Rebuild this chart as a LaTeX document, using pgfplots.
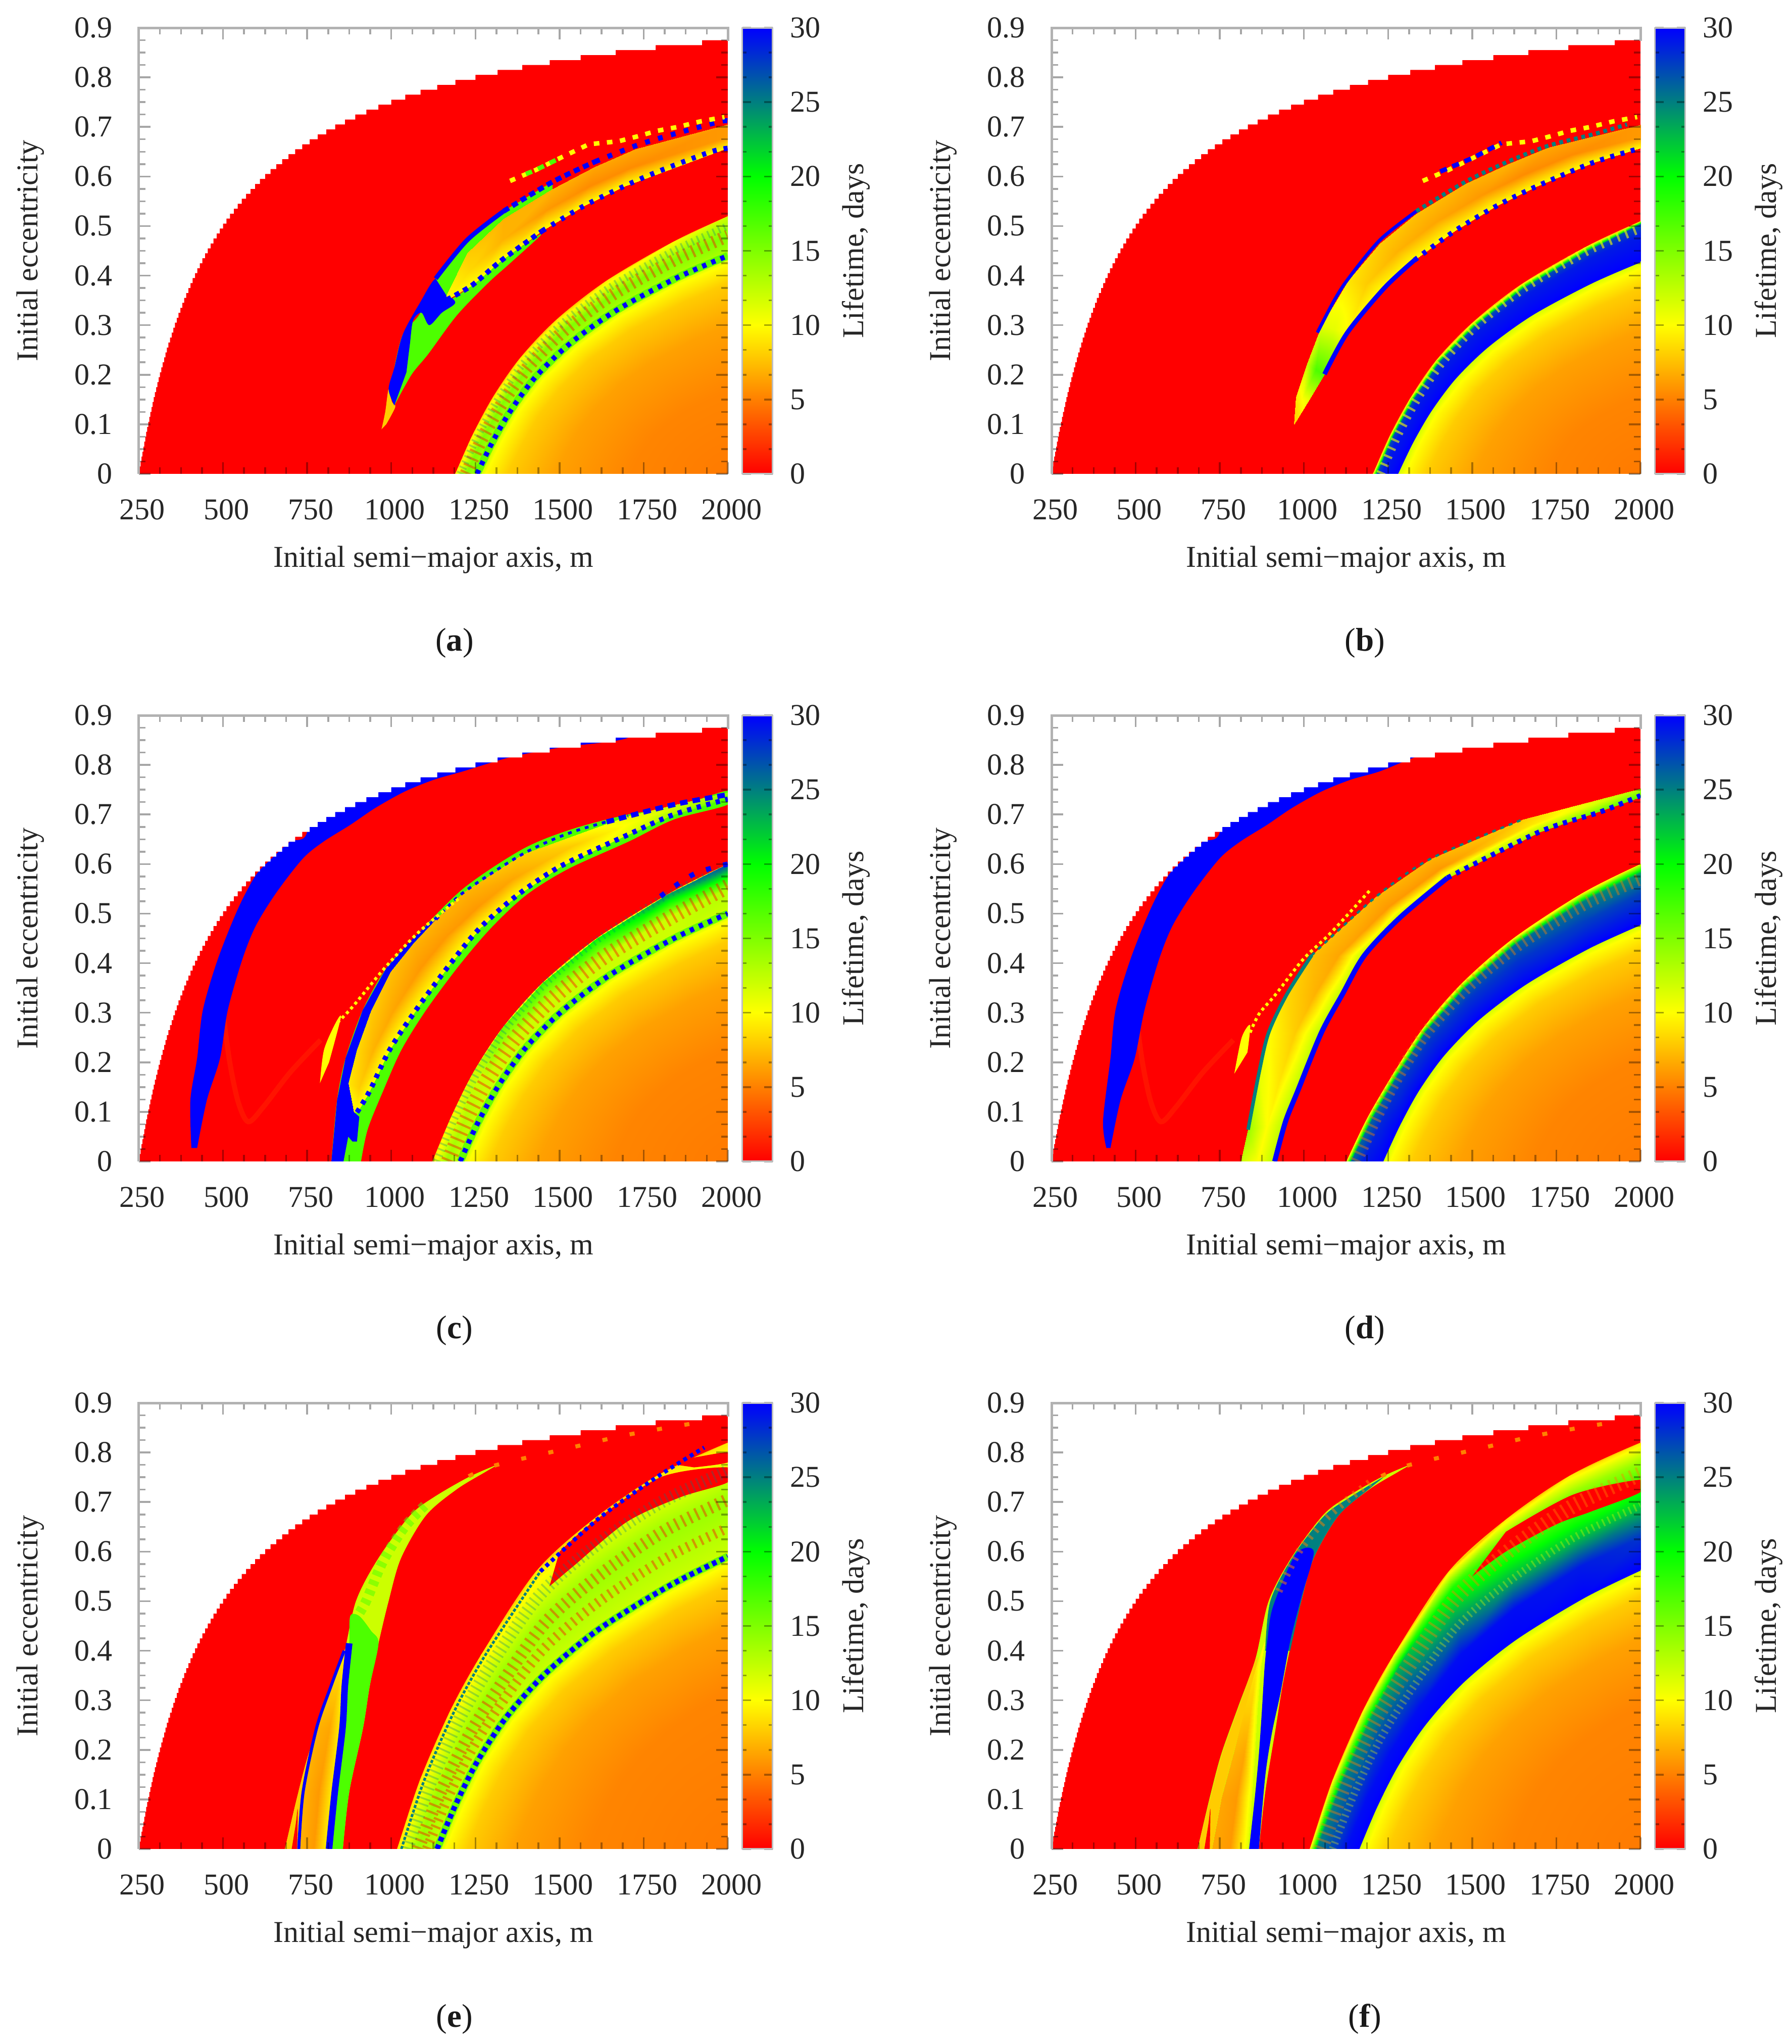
\documentclass[border=0pt]{standalone}
\usepackage{fontspec}
\setmainfont{Liberation Serif}
\usepackage{pgfplots}
\pgfplotsset{compat=1.18}
\definecolor{lR}{RGB}{255,0,0}
\definecolor{lO}{RGB}{255,128,0}
\definecolor{lYo}{RGB}{255,204,0}
\definecolor{lY}{RGB}{255,255,0}
\definecolor{lYG}{RGB}{204,255,0}
\definecolor{lGY}{RGB}{128,255,0}
\definecolor{lG}{RGB}{77,255,0}
\definecolor{lT}{RGB}{0,128,128}
\definecolor{lB}{RGB}{0,0,255}
\pgfplotstableread{
a e
250.0 0.005
252.5 0.015
255.1 0.025
257.7 0.035
260.4 0.045
263.2 0.055
266.0 0.065
268.8 0.075
271.7 0.085
274.7 0.095
277.8 0.105
280.9 0.115
284.1 0.125
287.4 0.135
290.7 0.145
294.1 0.155
297.6 0.165
301.2 0.175
304.9 0.185
308.6 0.195
312.5 0.205
316.5 0.215
320.5 0.225
324.7 0.235
328.9 0.245
333.3 0.255
337.8 0.265
342.5 0.275
347.2 0.285
352.1 0.295
357.1 0.305
362.3 0.315
367.6 0.325
373.1 0.335
378.8 0.345
384.6 0.355
390.6 0.365
396.8 0.375
403.2 0.385
409.8 0.395
416.7 0.405
423.7 0.415
431.0 0.425
438.6 0.435
446.4 0.445
454.5 0.455
463.0 0.465
471.7 0.475
480.8 0.485
490.2 0.495
500.0 0.505
510.2 0.515
520.8 0.525
531.9 0.535
543.5 0.545
555.6 0.555
568.2 0.565
581.4 0.575
595.2 0.585
609.8 0.595
625.0 0.605
641.0 0.615
657.9 0.625
675.7 0.635
694.4 0.645
714.3 0.655
735.3 0.665
757.6 0.675
781.3 0.685
806.5 0.695
833.3 0.705
862.1 0.715
892.9 0.725
925.9 0.735
961.5 0.745
1000.0 0.755
1041.7 0.765
1087.0 0.775
1136.4 0.785
1190.5 0.795
1250.0 0.805
1315.8 0.815
1388.9 0.825
1470.6 0.835
1562.5 0.845
1666.7 0.855
1785.7 0.865
1923.1 0.875
2000.0 0.90
250.0 0.90
}\stairs
\newcommand{\reg}[2]{\addplot[fill=#1,draw=none,forget plot] coordinates {#2};}
\newcommand{\sreg}[2]{\addplot[smooth,fill=#1,draw=none,forget plot] coordinates {#2};}
\newcommand{\cv}[2]{\addplot[smooth,forget plot,#1] coordinates {#2};}
\newcommand{\pl}[2]{\addplot[forget plot,#1] coordinates {#2};}
\newcommand{\strip}[2]{\addplot[surf,shader=interp,mesh/cols=#1,point meta=explicit,forget plot] coordinates {#2};}
\newcommand{\bgred}{\reg{lR}{(250,0)(2000,0)(2000,.9)(250,.9)}}
\newcommand{\whitetop}{\addplot[fill=white,draw=none,const plot,forget plot] table {\stairs};}
\pgfplotsset{
  colormap={life}{rgb255=(255,0,0) rgb255=(255,255,0) rgb255=(0,255,0) rgb255=(0,0,255)},
  panel/.style={
    scale only axis, width=233.2pt, height=176.6pt, anchor=south west,
    xmin=250, xmax=2000, ymin=0, ymax=0.9,
    xtick={250,500,750,1000,1250,1500,1750,2000},
    xticklabels={250,500,750,1000,1250,1500,1750,2000},
    ytick={0,0.1,0.2,0.3,0.4,0.5,0.6,0.7,0.8,0.9},
    yticklabels={0,0.1,0.2,0.3,0.4,0.5,0.6,0.7,0.8,0.9},
    minor x tick num=3, minor y tick num=3,
    tick align=inside, major tick length=4.6pt, minor tick length=2.6pt,
    tick style={black,opacity=0.35,line width=0.7pt},
    axis on top, axis line style={draw=none},
    extra description/.code={\draw[gray!60,line width=1pt] (axis description cs:1,0.97)--(axis description cs:1,1)--(axis description cs:0,1)--(axis description cs:0,0);},
    tick label style={font=\fontsize{12}{14}\selectfont,text=black!85},
    x tick label style={xshift=1.4pt,yshift=-6.5pt},
    y tick label style={xshift=-7pt},
    label style={font=\fontsize{12}{14}\selectfont,text=black!85},
    xlabel={Initial semi−major axis, m},
    ylabel={Initial eccentricity},
    xlabel style={at={(axis description cs:0.5,0)},anchor=center,yshift=-34pt},
    ylabel style={at={(axis description cs:0,0.5)},anchor=center,yshift=43pt},
    colormap name=life, point meta min=0, point meta max=30,
    colorbar,
    colorbar style={
      at={(parent axis.south east)}, anchor=south west, xshift=-2.8pt,
      width=12pt,
      ytick={0,5,10,15,20,25,30}, yticklabels={0,5,10,15,20,25,30},
      minor y tick num=2, ytick pos=both, yticklabel pos=right,
      tick align=inside,
      major tick length=3.4pt, minor tick length=1.6pt,
      axis line style={gray!50,line width=0.6pt},
      tick style={black,opacity=0.35,line width=0.7pt},
      y tick label style={xshift=3.4pt},
      ylabel={Lifetime, days},
      ylabel style={at={(axis description cs:1,0.5)},anchor=center,yshift=-33pt},
      label style={font=\fontsize{12}{14}\selectfont,text=black!85},
    },
    clip=true,
  },
  dotline/.style={lB,line width=2pt,dash pattern=on 1.7pt off 2.2pt},
  halo/.style={lG,line width=3pt,opacity=0.8},
  stripe/.style={line width=#1,dash pattern=on 0.9pt off 2.1pt,opacity=0.4},
  stripb/.style={line width=#1,dash pattern=on 0.7pt off 1.6pt,opacity=0.3},
  topdash/.style={lY,line width=1.8pt,dash pattern=on 2.2pt off 3pt},
}
\begin{document}
\begin{tikzpicture}[x=1pt,y=1pt]
\useasboundingbox (0,0) rectangle (709.6pt,809.2pt);
\node[font=\fontsize{13}{15}\selectfont,text=black!90] at (180,554.6) {(\textbf{a})};
\node[font=\fontsize{13}{15}\selectfont,text=black!90] at (540.5,554.6) {(\textbf{b})};
\node[font=\fontsize{13}{15}\selectfont,text=black!90] at (180,282.4) {(\textbf{c})};
\node[font=\fontsize{13}{15}\selectfont,text=black!90] at (540.5,282.4) {(\textbf{d})};
\node[font=\fontsize{13}{15}\selectfont,text=black!90] at (180,9.8) {(\textbf{e})};
\node[font=\fontsize{13}{15}\selectfont,text=black!90] at (540.5,9.8) {(\textbf{f})};

% (a)
\begin{axis}[panel,at={(55pt,621.6pt)}]
\bgred
\sreg{lYo}{(1170,-.03)(1190,0)(1241,.078)(1303,.156)(1383,.234)(1492,.312)(1640,.39)(1837,.468)(2000,.52)(2200,.58)(2300,-.2)}
\strip{8}{(1255,0)[13](1302,.066)[13](1359,.132)[13](1432,.198)[13](1533,.264)[13](1669,.33)[13](1850,.396)[13](2000,.44)[13]
(1280,0)[10](1326,.064)[10](1380,.128)[10](1451,.191)[10](1549,.255)[10](1680,.319)[10](1855,.383)[10](2000,.425)[10]
(1345,0)[8](1387,.058)[8](1436,.116)[8](1501,.173)[8](1589,.231)[8](1709,.289)[8](1868,.347)[8](2000,.385)[8]
(1485,0)[6.3](1518,.045)[6.3](1557,.09)[6.3](1608,.135)[6.3](1677,.18)[6.3](1771,.225)[6.3](1896,.27)[6.3](2000,.3)[6.3]
(1705,0)[5.2](1724,.026)[5.2](1746,.051)[5.2](1775,.077)[5.2](1815,.102)[5.2](1869,.128)[5.2](1941,.153)[5.2](2000,.17)[5.2]
(2000,0)[4.8](2000,0)[4.8](2000,0)[4.8](2000,0)[4.8](2000,0)[4.8](2000,0)[4.8](2000,0)[4.8](2000,0)[4.8]}
\strip{8}{(1190,0)[9](1241,.078)[9](1303,.156)[9](1383,.234)[9](1492,.312)[9](1640,.39)[9](1837,.468)[10](2000,.52)[12]
(1222,0)[15](1271,.072)[15](1331,.144)[15](1407,.216)[15](1512,.288)[15](1654,.36)[15](1843,.432)[15](2000,.48)[15]
(1255,0)[13](1302,.066)[13](1359,.132)[13](1432,.198)[13](1533,.264)[13](1669,.33)[13](1850,.396)[13](2000,.44)[13]}
\cv{lR,stripe=5pt}{(1222,0)(1271,.072)(1331,.144)(1407,.216)(1512,.288)(1654,.36)(1843,.432)(2000,.48)}
\cv{lT,stripb=3pt}{(1205,0)(1256,.075)(1317,.15)(1395,.225)(1502,.30)(1647,.375)(1840,.45)(2000,.50)}
\cv{halo}{(1255,0)(1302,.066)(1359,.132)(1432,.198)(1533,.264)(1669,.33)(1850,.396)(2000,.44)}
\cv{dotline}{(1255,0)(1302,.066)(1359,.132)(1432,.198)(1533,.264)(1669,.33)(1850,.396)(2000,.44)}
\sreg{lG}{(1009,.138)(1060,.20)(1110,.242)(1195,.32)(1289,.386)(1353,.425)(1448,.485)(1328,.431)(1239,.38)(1164,.351)(1132,.394)(1085,.323)(1034,.281)(1009,.214)}
\sreg{lYo}{(971,.09)(982,.125)(992,.171)(1002,.145)(1012,.135)(985,.10)}
\sreg{lB}{(1009,.138)(992,.171)(1009,.214)(1034,.281)(1085,.345)(1132,.394)(1164,.365)(1190,.345)(1150,.325)(1113,.30)(1090,.325)(1065,.31)(1055,.26)(1045,.205)}
\reg{lG}{(1132,.394)(1226,.472)(1334,.53)(1479,.589)(1479,.57)(1334,.505)(1226,.44)(1164,.36)}
\strip{7}{(1164,.36)[10](1226,.445)[8](1334,.515)[7](1479,.575)[7](1606,.62)[6.5](1726,.655)[6.5](2000,.705)[6]
(1164,.355)[10](1232,.41)[8.5](1331,.473)[7](1463,.533)[6](1588,.58)[5.5](1707,.617)[5.5](2000,.68)[6]
(1164,.351)[10](1239,.38)[10](1328,.431)[10](1448,.49)[10](1571,.54)[10](1688,.579)[10](2000,.657)[10]}
\cv{lB,line width=1.8pt}{(1132,.394)(1226,.472)(1334,.53)}
\cv{lB,line width=2pt,dash pattern=on 2.4pt off 1.6pt}{(1334,.53)(1479,.589)(1606,.63)}
\cv{lB,line width=2pt,dash pattern=on 1.9pt off 3.4pt}{(1606,.63)(1726,.662)(1821,.682)(1972,.71)(2000,.712)}
\cv{lB,line width=2pt,dash pattern=on 2pt off 1.8pt}{(1164,.351)(1239,.38)(1328,.431)(1448,.49)}
\cv{lB,line width=2pt,dash pattern=on 1.6pt off 2.8pt}{(1448,.49)(1571,.54)(1688,.579)(1789,.609)(1946,.649)(2000,.657)}
\pl{topdash}{(1353,.591)(1429,.613)(1504,.638)(1587,.665)(1675,.671)(1732,.681)(1789,.692)(1852,.70)(1918,.711)(1990,.72)}
\pl{lG,line width=1.8pt,dash pattern=on 2.6pt off 2.6pt}{(1400,.605)(1429,.613)(1504,.638)}
\whitetop
\end{axis}

% (b)
\begin{axis}[panel,at={(416.4pt,621.6pt)}]
\bgred
\sreg{lYo}{(1185,-.03)(1205,0)(1255,.077)(1316,.153)(1394,.23)(1502,.306)(1647,.383)(1840,.459)(2000,.51)(2200,.57)(2300,-.2)}
\strip{8}{(1275,0)[12](1321,.065)[12](1376,.129)[12](1448,.194)[12](1545,.258)[12](1678,.323)[12](1854,.387)[12](2000,.43)[12]
(1300,0)[10](1344,.062)[10](1397,.125)[10](1467,.187)[10](1561,.249)[10](1689,.311)[10](1859,.374)[10](2000,.415)[10]
(1365,0)[8](1405,.056)[8](1453,.113)[8](1516,.169)[8](1602,.225)[8](1718,.281)[8](1872,.338)[8](2000,.375)[8]
(1505,0)[6.3](1536,.044)[6.3](1574,.087)[6.3](1623,.131)[6.3](1690,.174)[6.3](1780,.218)[6.3](1901,.261)[6.3](2000,.29)[6.3]
(1725,0)[5.2](1742,.024)[5.2](1763,.048)[5.2](1790,.072)[5.2](1828,.096)[5.2](1878,.12)[5.2](1945,.144)[5.2](2000,.16)[5.2]
(2000,0)[4.8](2000,0)[4.8](2000,0)[4.8](2000,0)[4.8](2000,0)[4.8](2000,0)[4.8](2000,0)[4.8](2000,0)[4.8]}
\strip{8}{(1205,0)[9](1255,.077)[9](1316,.153)[9](1394,.23)[9](1502,.306)[9](1647,.383)[9](1840,.459)[10](2000,.51)[12]
(1216,0)[27](1265,.075)[27](1325,.149)[27](1402,.225)[27](1508,.298)[27](1652,.374)[27](1842,.449)[27](2000,.503)[27]
(1230,0)[29](1278,.073)[29](1337,.145)[29](1413,.217)[29](1517,.289)[29](1658,.361)[29](1845,.433)[29](2000,.482)[29]
(1275,0)[30](1321,.065)[30](1376,.129)[30](1448,.194)[30](1545,.258)[30](1678,.323)[30](1854,.387)[30](2000,.43)[30]}
\cv{lY,line width=3.5pt,dash pattern=on 0.9pt off 2.6pt,opacity=0.6}{(1228,0)(1276,.075)(1335,.15)(1410,.225)(1514,.30)(1655,.375)(1843,.45)(2000,.495)}
\cv{lB,line width=1.2pt}{(1275,0)(1321,.065)(1376,.129)(1448,.194)(1545,.258)(1678,.323)(1854,.387)(2000,.43)}
\strip{11}{(971,.10)[8](976,.155)[9](1010,.222)[12](1053,.30)[11](1132,.39)[9](1226,.465)[8](1334,.525)[7.5](1479,.585)[7](1606,.625)[7](1726,.658)[6.5](2000,.704)[6]
(971,.10)[8](995,.152)[10](1035,.21)[17](1091,.292)[11](1185,.382)[8](1277,.448)[7](1391,.508)[6.5](1525,.562)[6](1647,.602)[5.5](1792,.643)[5.5](2000,.68)[6]
(971,.10)[8](1015,.15)[11](1061,.201)[17](1129,.285)[10](1239,.375)[10](1328,.431)[10](1448,.49)[10](1571,.54)[10](1688,.579)[10](1859,.628)[10](2000,.657)[10]}
\cv{lB,line width=1.8pt}{(1061,.201)(1129,.285)(1239,.375)(1328,.431)}
\cv{lB,line width=2pt,dash pattern=on 1.6pt off 2.6pt}{(1328,.431)(1448,.49)(1571,.54)(1688,.579)(1859,.628)(2000,.657)}
\cv{lB,line width=1.3pt}{(1040,.285)(1090,.35)(1132,.394)(1226,.472)(1334,.53)}
\cv{lT,line width=1.6pt,dash pattern=on 1.5pt off 1.5pt}{(1334,.53)(1479,.589)(1606,.63)(1726,.662)(1859,.685)(1960,.705)}
\pl{topdash}{(1353,.591)(1429,.613)(1504,.638)(1587,.665)(1675,.671)(1732,.681)(1789,.692)(1852,.70)(1918,.711)(1990,.72)}
\pl{lB,line width=1.8pt,dash pattern=on 2.8pt off 2.4pt}{(1405,.61)(1504,.638)(1587,.668)}
\whitetop
\end{axis}

% (c)
\begin{axis}[panel,at={(55pt,349.4pt)}]
\bgred
\cv{orange!70!red,line width=2pt,opacity=0.22}{(500,.30)(520,.2)(545,.12)(575,.08)(620,.11)(700,.18)(790,.245)}
\sreg{lY}{(1102,-.03)(1122,0)(1178,.09)(1244,.18)(1331,.27)(1449,.36)(1610,.45)(1824,.54)(2000,.6)(2200,.66)(2300,-.2)}
\strip{8}{(1205,0)[13](1255,.075)[13](1316,.15)[13](1394,.225)[13](1502,.3)[13](1647,.375)[13](1840,.45)[13](2000,.5)[13]
(1230,0)[10](1279,.073)[10](1337,.146)[10](1413,.218)[10](1517,.291)[10](1658,.364)[10](1845,.437)[10](2000,.485)[10]
(1295,0)[8](1340,.067)[8](1393,.134)[8](1463,.2)[8](1558,.267)[8](1687,.334)[8](1858,.4)[8](2000,.445)[8]
(1435,0)[6.3](1471,.054)[6.3](1514,.108)[6.3](1569,.162)[6.3](1646,.216)[6.3](1749,.27)[6.3](1886,.324)[6.3](2000,.36)[6.3]
(1655,0)[5.2](1677,.035)[5.2](1703,.069)[5.2](1737,.104)[5.2](1784,.138)[5.2](1847,.173)[5.2](1931,.207)[5.2](2000,.23)[5.2]
(2000,0)[4.8](2000,0)[4.8](2000,0)[4.8](2000,0)[4.8](2000,0)[4.8](2000,0)[4.8](2000,0)[4.8](2000,0)[4.8]}
\strip{8}{(1122,0)[9](1178,.09)[10](1244,.18)[12](1331,.27)[16](1449,.36)[18](1610,.45)[20](1824,.54)[24](2000,.6)[27]
(1164,0)[14](1217,.083)[13](1280,.165)[12](1363,.248)[12](1476,.33)[12](1629,.413)[12](1832,.495)[12](2000,.55)[13]
(1205,0)[12](1255,.075)[12](1316,.15)[12](1394,.225)[12](1502,.3)[12](1647,.375)[12](1840,.45)[12](2000,.5)[12]}
\cv{lR,stripe=6pt}{(1170,0)(1222,.083)(1285,.165)(1368,.248)(1481,.33)(1634,.413)(1837,.495)(2000,.555)}
\cv{lT,stripb=3pt}{(1135,0)(1190,.09)(1256,.18)(1342,.27)(1459,.36)(1618,.45)(1828,.54)(2000,.595)}
\cv{halo}{(1205,0)(1255,.075)(1316,.15)(1394,.225)(1502,.3)(1647,.375)(1840,.45)(2000,.5)}
\cv{dotline}{(1205,0)(1255,.075)(1316,.15)(1394,.225)(1502,.3)(1647,.375)(1840,.45)(2000,.5)}
\cv{lB,line width=2pt,dash pattern=on 2pt off 5pt}{(1800,.535)(1900,.58)(2000,.60)}
\sreg{lB}{(406,.027)(403,.124)(423,.208)(440,.305)(484,.407)(544,.509)(597,.577)(644,.611)(698,.645)(751,.668)(751,.85)(1704,.9)(1704,.855)(1500,.835)(1350,.815)(1213,.787)(1126,.77)(1039,.746)(952,.713)(878,.679)(798,.645)(737,.611)(658,.542)(597,.475)(557,.407)(514,.305)(491,.208)(452,.124)(423,.027)}
\sreg{lG}{(822,0)(839,.124)(864,.208)(915,.305)(985,.39)(1066,.45)(1213,.55)(1390,.63)(1535,.67)(1704,.70)(1840,.714)(2000,.748)(2000,.72)(1840,.69)(1704,.645)(1525,.59)(1400,.537)(1295,.47)(1200,.394)(1103,.305)(1030,.225)(975,.141)(930,.065)(910,0)}
\reg{lB}{(822,0)(839,.124)(864,.208)(915,.305)(985,.39)(1050,.44)(1133,.495)(1133,.488)(1066,.44)(999,.383)(941,.305)(898,.225)(873,.158)(890,.099)(905,.09)(898,.04)(885,.04)(872,.05)(858,0)}
\strip{11}{(890,.099)[9](873,.158)[9](898,.225)[8.5](941,.305)[8](999,.383)[7.5](1066,.44)[7](1133,.488)[7](1213,.542)[7](1390,.62)[8](1704,.697)[11](2000,.745)[14]
(894,.099)[10](904,.15)[8](946,.225)[7](1007,.305)[6.5](1085,.388)[6](1164,.455)[6](1254,.512)[6](1358,.569)[6.5](1540,.637)[8](1772,.698)[11](2000,.738)[15]
(898,.099)[10](935,.141)[10](995,.225)[10](1073,.305)[10](1170,.394)[10](1262,.47)[10](1374,.537)[10](1504,.596)[10](1690,.655)[11](1840,.70)[14](2000,.731)[18]}
\cv{dotline}{(898,.099)(935,.141)(995,.225)(1073,.305)(1170,.394)(1262,.47)(1374,.537)(1504,.596)(1690,.655)(1840,.70)(2000,.731)}
\cv{lB,line width=1.1pt,dash pattern=on 1.5pt off 2pt}{(1133,.488)(1213,.542)(1390,.62)(1535,.664)(1704,.697)}
\cv{lB,line width=2pt,dash pattern=on 3pt off 2pt}{(1640,.685)(1840,.72)(2000,.74)}
\sreg{lY}{(788,.158)(800,.225)(835,.28)(850,.29)(815,.2)}
\cv{lY,line width=1.2pt,dash pattern=on 1.2pt off 1.3pt}{(840,.28)(885,.312)(979,.389)(1079,.461)(1200,.53)}
\whitetop
\end{axis}

% (d)
\begin{axis}[panel,at={(416.4pt,349.4pt)}]
\bgred
\cv{orange!70!red,line width=2pt,opacity=0.22}{(500,.30)(520,.2)(545,.12)(575,.08)(620,.11)(700,.18)(790,.245)}
\sreg{lY}{(1106,-.03)(1126,0)(1190,.09)(1268,.18)(1355,.27)(1470,.36)(1622,.45)(1824,.54)(2000,.6)(2200,.66)(2300,-.2)}
\strip{8}{(1231,0)[12](1280,.072)[12](1338,.144)[12](1414,.216)[12](1518,.288)[12](1659,.36)[12](1845,.432)[12](2000,.48)[12]
(1255,0)[10](1302,.07)[10](1359,.14)[10](1432,.209)[10](1533,.279)[10](1669,.349)[10](1850,.419)[10](2000,.465)[10]
(1320,0)[8](1363,.064)[8](1415,.128)[8](1482,.191)[8](1574,.255)[8](1698,.319)[8](1863,.383)[8](2000,.425)[8]
(1460,0)[6.3](1494,.051)[6.3](1535,.102)[6.3](1589,.153)[6.3](1661,.204)[6.3](1760,.255)[6.3](1891,.306)[6.3](2000,.34)[6.3]
(1680,0)[5.2](1700,.032)[5.2](1724,.063)[5.2](1756,.095)[5.2](1799,.126)[5.2](1858,.158)[5.2](1936,.189)[5.2](2000,.21)[5.2]
(2000,0)[4.8](2000,0)[4.8](2000,0)[4.8](2000,0)[4.8](2000,0)[4.8](2000,0)[4.8](2000,0)[4.8](2000,0)[4.8]}
\strip{8}{(1126,0)[10](1190,.09)[10](1268,.18)[10](1355,.27)[10](1470,.36)[10](1622,.45)[10](1824,.54)[10](2000,.6)[11]
(1140,0)[26](1203,.087)[26](1279,.175)[26](1362,.262)[26](1476,.349)[26](1627,.437)[26](1827,.524)[25](2000,.582)[24]
(1177,0)[29](1229,.081)[28.5](1291,.162)[28](1373,.243)[28](1484,.324)[28](1635,.405)[28](1835,.486)[27.5](2000,.54)[27.5]
(1231,0)[30](1280,.072)[30](1338,.144)[30](1414,.216)[30](1518,.288)[30](1659,.36)[30](1845,.432)[30](2000,.48)[30]}
\cv{lO,stripe=5pt}{(1155,0)(1212,.086)(1280,.173)(1362,.259)(1475,.345)(1627,.432)(1830,.518)(2000,.57)}
\cv{lB,line width=1.2pt}{(1231,0)(1280,.072)(1338,.144)(1414,.216)(1518,.288)(1659,.36)(1845,.432)(2000,.48)}
\sreg{lB}{(413,.027)(403,.082)(425,.208)(440,.305)(484,.407)(544,.509)(597,.577)(644,.611)(698,.645)(751,.668)(751,.85)(1830,.9)(1830,.872)(1500,.84)(1350,.82)(1225,.787)(1138,.77)(1051,.746)(964,.713)(890,.679)(810,.645)(749,.611)(670,.542)(609,.475)(569,.407)(526,.305)(497,.208)(455,.124)(425,.027)}
\strip{10}{(813,0)[12](834,.064)[14](867,.181)[11](895,.26)[10](949,.337)[8.5](1023,.416)[7.5](1212,.533)[7](1377,.611)[7](1650,.69)[8](2000,.752)[13]
(863,0)[10](889,.07)[10](925,.16)[9](974,.26)[8](1032,.337)[7](1102,.416)[6.5](1250,.513)[6](1402,.59)[6](1675,.68)[9](2000,.743)[15]
(913,0)[13](945,.08)[13](982,.143)[13](1052,.26)[13](1114,.337)[13](1180,.416)[13](1287,.493)[13](1426,.572)[13](1700,.665)[14](2000,.735)[17]}
\cv{lT,line width=1.4pt}{(834,.064)(867,.181)(895,.26)(949,.337)(1023,.416)}
\cv{lT,line width=0.9pt,dash pattern=on 1.5pt off 2pt}{(1023,.416)(1212,.533)(1377,.611)(1650,.69)}
\cv{lB,line width=2pt}{(913,0)(945,.08)(982,.143)(1052,.26)(1114,.337)(1180,.416)(1287,.493)(1426,.572)}
\cv{dotline}{(1426,.572)(1700,.665)(1880,.705)(2000,.738)}
\sreg{lY}{(793,.177)(815,.25)(840,.275)(832,.22)}
\cv{lY,line width=1.2pt,dash pattern=on 1.2pt off 1.3pt}{(840,.26)(867,.298)(916,.337)(998,.408)(1081,.462)(1200,.55)}
\whitetop
\end{axis}

% (e)
\begin{axis}[panel,at={(55pt,77.2pt)}]
\bgred
\sreg{lYo}{(1000,-.03)(1017,0)(1085,.139)(1175,.279)(1268,.393)(1430,.56)(1600,.665)(1789,.753)(2000,.82)(2200,.87)(2300,-.2)}
\strip{8}{(1136,0)[13](1191,.089)[13](1256,.177)[13](1342,.266)[13](1458,.354)[13](1616,.443)[13](1826,.531)[13](2000,.59)[13]
(1160,0)[10](1213,.086)[10](1277,.173)[10](1360,.259)[10](1473,.345)[10](1627,.431)[10](1831,.518)[10](2000,.575)[10]
(1225,0)[8](1274,.08)[8](1333,.161)[8](1409,.241)[8](1514,.321)[8](1656,.401)[8](1844,.482)[8](2000,.535)[8]
(1365,0)[6.3](1405,.068)[6.3](1453,.135)[6.3](1516,.203)[6.3](1602,.27)[6.3](1718,.338)[6.3](1872,.405)[6.3](2000,.45)[6.3]
(1585,0)[5.2](1611,.048)[5.2](1643,.096)[5.2](1684,.144)[5.2](1740,.192)[5.2](1816,.24)[5.2](1917,.288)[5.2](2000,.32)[5.2]
(2000,0)[4.8](2000,0)[4.8](2000,0)[4.8](2000,0)[4.8](2000,0)[4.8](2000,0)[4.8](2000,0)[4.8](2000,0)[4.8]}
\strip{8}{(1017,0)[9](1085,.139)[9](1175,.279)[9](1268,.393)[9](1430,.56)[9](1600,.665)[9](1789,.753)[9](2000,.82)[9]
(1076,0)[14](1138,.114)[14](1216,.228)[14](1305,.33)[14](1444,.457)[14](1608,.554)[14](1808,.642)[14](2000,.705)[14]
(1136,0)[12](1191,.089)[12](1256,.177)[12](1342,.266)[12](1458,.354)[12](1616,.443)[12](1826,.531)[12](2000,.59)[12]}
\sreg{lR}{(1470,.53)(1540,.57)(1700,.66)(1860,.71)(2000,.74)(2000,.77)(1800,.75)(1600,.66)(1500,.60)}
\sreg{lR}{(1800,.78)(1900,.79)(2000,.80)(2000,.78)(1900,.77)}
\cv{lR,stripe=5pt}{(1080,0)(1146,.114)(1230,.228)(1324,.33)(1458,.457)(1622,.554)(1812,.642)(2000,.705)}
\cv{lT,stripb=5pt}{(1047,0)(1112,.127)(1196,.254)(1287,.362)(1437,.509)(1604,.61)(1798,.698)(2000,.763)}
\cv{lR,stripe=4pt}{(1106,0)(1167,.102)(1241,.203)(1331,.298)(1456,.406)(1617,.499)(1817,.587)(2000,.648)}
\cv{lT,line width=1pt,dash pattern=on 1.2pt off 0.7pt}{(1030,0)(1098,.139)(1188,.279)(1281,.393)(1443,.56)}
\cv{lB,line width=1.6pt,dash pattern=on 1.5pt off 1.5pt}{(1443,.56)(1613,.665)(1795,.753)(1930,.81)}
\cv{halo}{(1136,0)(1191,.089)(1256,.177)(1342,.266)(1458,.354)(1616,.443)(1826,.531)(2000,.59)}
\cv{lB,line width=2.1pt,dash pattern=on 1.8pt off 1.5pt}{(1136,0)(1191,.089)(1256,.177)(1342,.266)(1458,.354)(1616,.443)(1826,.531)(2000,.59)}
\sreg{lYG}{(684,0)(720,.104)(754,.191)(805,.288)(856,.384)(895,.50)(962,.587)(1056,.673)(1127,.71)(1229,.75)(1314,.775)(1280,.761)(1195,.726)(1103,.673)(1029,.587)(992,.50)(962,.415)(936,.329)(916,.244)(875,.115)(856,0)}
\sreg{lYo}{(684,0)(720,.104)(754,.191)(805,.288)(856,.384)(860,.40)(821,.329)(778,.244)(738,.115)(725,0)}
\sreg{lR}{(704,0)(716,.05)(722,.08)(720,0)}
\strip{5}{(725,0)[7](738,.115)[7](778,.244)[7](821,.329)[8](872,.415)[10]
(770,0)[6](785,.115)[6](816,.244)[6.5](841,.329)[8](873,.415)[11]
(815,0)[10](832,.115)[10](855,.244)[10](862,.329)[10](875,.415)[10]}
\sreg{lG}{(815,0)(832,.115)(855,.244)(862,.329)(875,.415)(878,.47)(905,.47)(940,.44)(962,.415)(936,.329)(916,.244)(875,.115)(856,0)}
\cv{lB,line width=1.2pt}{(725,0)(738,.115)(778,.244)(821,.329)(860,.40)}
\cv{lB,line width=2.6pt}{(815,0)(832,.115)(855,.244)(862,.329)(875,.415)}
\cv{lG,line width=4pt,dash pattern=on 2pt off 2pt,opacity=0.5}{(890,.46)(925,.5)(975,.58)(1040,.65)(1110,.70)}
\cv{lO,line width=1.6pt,dash pattern=on 2pt off 9pt}{(1230,.752)(1314,.775)(1535,.81)(1704,.836)(1908,.86)}
\whitetop
\end{axis}

% (f)
\begin{axis}[panel,at={(416.4pt,77.2pt)}]
\bgred
\sreg{lYo}{(1000,-.03)(1017,0)(1085,.139)(1175,.279)(1268,.393)(1430,.56)(1600,.665)(1789,.753)(2000,.82)(2200,.87)(2300,-.2)}
\strip{8}{(1160,0)[12](1213,.085)[12](1277,.17)[12](1360,.254)[12](1473,.339)[12](1627,.424)[12](1831,.509)[12](2000,.565)[12]
(1185,0)[10](1237,.083)[10](1298,.165)[10](1379,.248)[10](1489,.33)[10](1638,.413)[10](1836,.495)[10](2000,.55)[10]
(1250,0)[8](1298,.077)[8](1354,.153)[8](1429,.23)[8](1530,.306)[8](1667,.383)[8](1849,.459)[8](2000,.51)[8]
(1390,0)[6.3](1429,.064)[6.3](1475,.128)[6.3](1535,.191)[6.3](1618,.255)[6.3](1729,.319)[6.3](1877,.383)[6.3](2000,.425)[6.3]
(1610,0)[5.2](1635,.044)[5.2](1664,.089)[5.2](1703,.133)[5.2](1755,.177)[5.2](1827,.221)[5.2](1922,.266)[5.2](2000,.295)[5.2]
(2000,0)[4.8](2000,0)[4.8](2000,0)[4.8](2000,0)[4.8](2000,0)[4.8](2000,0)[4.8](2000,0)[4.8](2000,0)[4.8]}
\strip{8}{(1017,0)[9](1085,.139)[9](1175,.279)[9](1268,.393)[9](1430,.56)[9](1600,.665)[9](1789,.753)[9](2000,.82)[9]
(1038,0)[25](1111,.131)[25](1198,.263)[24](1285,.372)[23](1440,.527)[19](1605,.629)[16](1795,.72)[14](2000,.782)[14]
(1089,0)[27.5](1153,.112)[27.5](1228,.225)[27.5](1320,.324)[27](1455,.45)[25](1618,.545)[23](1810,.631)[22](2000,.693)[22]
(1125,0)[29.5](1183,.099)[29.5](1257,.197)[29.5](1345,.289)[29.5](1468,.395)[29.5](1625,.485)[29.5](1820,.57)[29](2000,.629)[28]
(1160,0)[30](1213,.085)[30](1277,.17)[30](1360,.254)[30](1473,.339)[30](1627,.424)[30](1831,.509)[30](2000,.565)[30]}
\sreg{lR}{(1500,.55)(1600,.60)(1750,.655)(1850,.68)(2000,.72)(2000,.745)(1800,.715)(1600,.64)}
\cv{lO,stripe=6pt}{(1050,0)(1118,.125)(1205,.252)(1302,.359)(1450,.505)(1615,.605)(1799,.692)(2000,.757)}
\cv{lY,stripb=3pt}{(1085,0)(1150,.112)(1230,.225)(1322,.324)(1457,.45)(1620,.545)(1810,.631)(2000,.693)}
\cv{lB,line width=1.2pt}{(1160,0)(1213,.085)(1277,.17)(1360,.254)(1473,.339)(1627,.424)(1831,.509)(2000,.565)}
\sreg{lYG}{(684,0)(720,.104)(754,.191)(805,.288)(856,.384)(895,.50)(962,.587)(1056,.673)(1127,.71)(1229,.75)(1314,.775)(1280,.761)(1195,.726)(1103,.673)(1029,.587)(992,.50)(962,.415)(936,.329)(916,.244)(885,.115)(866,0)}
\sreg{lYo}{(684,0)(722,.104)(756,.191)(807,.288)(858,.384)(858,.367)(824,.279)(790,.191)(756,.104)(727,0)}
\sreg{lR}{(704,0)(716,.05)(722,.08)(720,0)}
\strip{6}{(727,0)[6.5](756,.104)[6.5](790,.191)[7](824,.279)[8](858,.367)[9](883,.419)[10]
(780,0)[6](800,.104)[6](822,.191)[6.5](842,.279)[8](865,.367)[10](883,.419)[10]
(832,0)[11](844,.104)[11](854,.191)[11](861,.279)[11](871,.367)[11](883,.419)[11]}
\sreg{lT}{(885,.40)(900,.50)(967,.59)(1060,.672)(1133,.708)(1235,.75)(1200,.73)(1103,.673)(1029,.587)(992,.50)(959,.40)}
\sreg{lB}{(837,0)(854,.104)(866,.191)(875,.279)(883,.367)(891,.419)(908,.489)(976,.595)(1029,.60)(992,.507)(959,.419)(930,.314)(905,.235)(885,.147)(866,0)}
\cv{lO,line width=3pt,dash pattern=on 1pt off 2.5pt,opacity=0.5}{(925,.52)(985,.60)(1056,.66)(1112,.695)(1197,.74)}
\cv{lO,line width=1.6pt,dash pattern=on 2pt off 9pt}{(1230,.752)(1314,.775)(1535,.81)(1704,.836)(1908,.86)}
\whitetop
\end{axis}
\end{tikzpicture}
\end{document}
